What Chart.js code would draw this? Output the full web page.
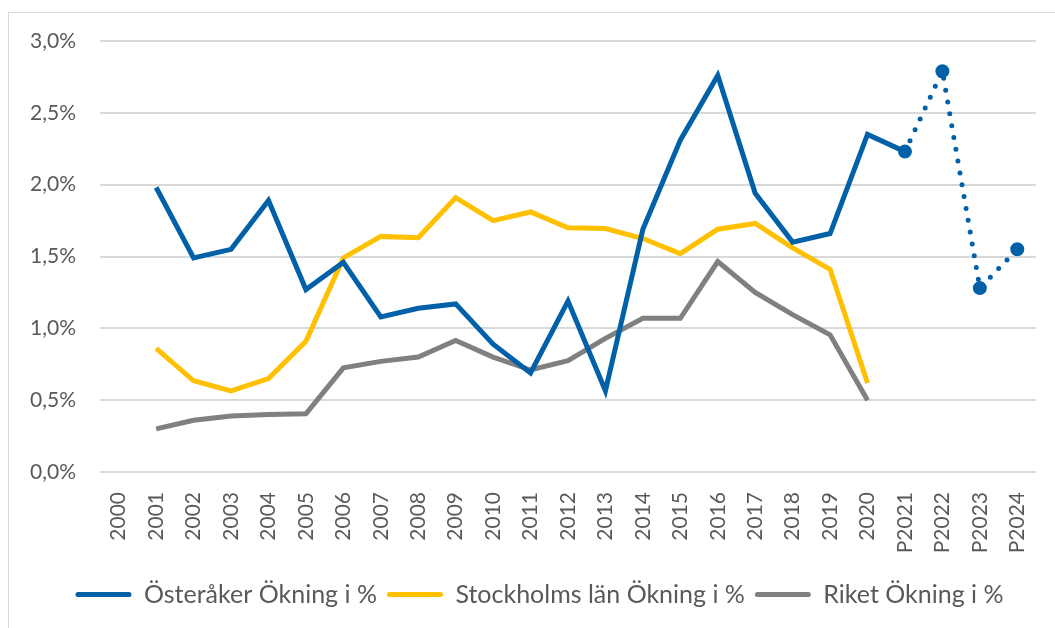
<!DOCTYPE html>
<html>
<head>
<meta charset="utf-8">
<script src="https://cdn.jsdelivr.net/npm/chart.js@4/dist/chart.umd.min.js"></script>
<style>
  html, body { margin: 0; padding: 0; background: #fff; width: 1055px; height: 628px; overflow: hidden; }
  #frame { position: absolute; left: 8px; top: 12px; width: 1047px; height: 616px; border-left: 1px solid #d9d9d9; border-top: 1px solid #d9d9d9; }
  #wrap { position: absolute; left: 0; top: 0; width: 1046px; height: 615px; }
</style>
</head>
<body>
<div id="frame"><div id="wrap"><canvas id="c"></canvas></div></div>
<script>
const categories = ['2000','2001','2002','2003','2004','2005','2006','2007','2008','2009','2010','2011','2012','2013','2014','2015','2016','2017','2018','2019','2020','P2021','P2022','P2023','P2024'];
const osteraker = [null,1.98,1.49,1.55,1.89,1.27,1.46,1.08,1.14,1.17,0.89,0.69,1.19,0.565,1.69,2.31,2.76,1.94,1.60,1.66,2.35,2.23,2.79,1.28,1.55];
const stockholm = [null,0.86,0.635,0.565,0.65,0.91,1.49,1.64,1.63,1.91,1.75,1.81,1.70,1.695,1.625,1.52,1.69,1.73,1.56,1.41,0.62,null,null,null,null];
const riket     = [null,0.30,0.36,0.39,0.40,0.405,0.725,0.77,0.80,0.915,0.80,0.71,0.775,0.93,1.07,1.07,1.465,1.25,1.095,0.955,0.50,null,null,null,null];
const yTicks = [0,0.5,1,1.5,2,2.5,3];
const seriesNames = ['Österåker Ökning i %','Stockholms län Ökning i %','Riket Ökning i %'];

const BLUE = '#0060A8', YELLOW = '#FFC000', GRAY = '#808080';
const firstForecast = categories.indexOf('P2021');
const FONT = 'Lato, "Open Sans", sans-serif';

const legendShift = {
  id: 'legendShift',
  afterLayout(chart) {
    if (chart.legend) { chart.legend.left += 17; chart.legend.right += 17; }
  }
};

new Chart(document.getElementById('c'), {
  type: 'line',
  plugins: [legendShift],
  data: {
    labels: categories,
    datasets: [
      {
        label: seriesNames[0], data: osteraker,
        borderColor: BLUE, backgroundColor: BLUE, borderWidth: 5,
        pointRadius: ctx => ctx.dataIndex >= firstForecast ? 6 : 0,
        pointBorderWidth: 2, pointBackgroundColor: BLUE, pointBorderColor: BLUE,
        pointHoverRadius: 0,
        segment: {
          borderDash: ctx => ctx.p0DataIndex >= firstForecast ? [0, 12] : [],
          borderCapStyle: ctx => ctx.p0DataIndex >= firstForecast ? 'round' : 'butt',
          borderWidth: 5
        },
        tension: 0, spanGaps: false
      },
      {
        label: seriesNames[1], data: stockholm,
        borderColor: YELLOW, backgroundColor: YELLOW, borderWidth: 5,
        pointRadius: 0, pointHoverRadius: 0, tension: 0
      },
      {
        label: seriesNames[2], data: riket,
        borderColor: GRAY, backgroundColor: GRAY, borderWidth: 5,
        pointRadius: 0, pointHoverRadius: 0, tension: 0
      }
    ]
  },
  options: {
    responsive: true,
    maintainAspectRatio: false,
    animation: false,
    layout: { padding: { left: 0, right: 19, top: 28, bottom: 11 } },
    plugins: {
      tooltip: { enabled: false },
      legend: {
        position: 'bottom',
        labels: {
          color: '#595959',
          font: { family: FONT, size: 25 },
          boxWidth: 56, boxHeight: 5,
          useBorderRadius: true, borderRadius: 2.5,
          padding: 10,
          generateLabels: chart => Chart.defaults.plugins.legend.labels.generateLabels(chart).map(l => Object.assign(l, { lineWidth: 0, lineDash: [] }))
        }
      }
    },
    scales: {
      x: {
        offset: true,
        grid: { display: false },
        border: { display: false },
        ticks: {
          color: '#595959', font: { family: FONT, size: 21 },
          minRotation: 90, maxRotation: 90, autoSkip: false, padding: 12
        },
        afterFit: s => { s.height = 100; s.paddingLeft = 0; s.paddingRight = 0; }
      },
      y: {
        min: 0, max: 3,
        afterBuildTicks: s => { s.ticks = yTicks.map(v => ({ value: v })); },
        grid: { color: '#d9d9d9', lineWidth: 2, drawTicks: false },
        border: { display: false },
        ticks: {
          color: '#595959', font: { family: FONT, size: 21 }, padding: 24,
          callback: v => v.toFixed(1).replace('.', ',') + '%'
        },
        afterFit: s => { s.width = 91; s.paddingTop = 0; s.paddingBottom = 0; }
      }
    }
  }
});
</script>
</body>
</html>
